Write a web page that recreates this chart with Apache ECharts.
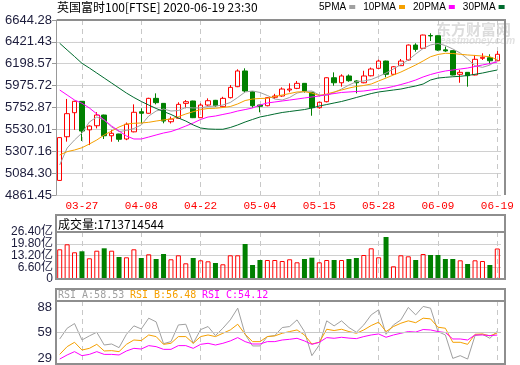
<!DOCTYPE html>
<html><head><meta charset="utf-8">
<script src="https://cdn.jsdelivr.net/npm/echarts@6/dist/echarts.min.js"></script>
<style>html,body{margin:0;padding:0;background:#fff}#c{width:520px;height:365px}</style>
</head><body><div id="c"></div>
<script>
const dates = ['03-24','03-25','03-26','03-27','03-30','03-31','04-01','04-02','04-03','04-06','04-07','04-08','04-09','04-14','04-15','04-16','04-17','04-20','04-21','04-22','04-23','04-24','04-27','04-28','04-29','04-30','05-01','05-04','05-05','05-06','05-07','05-11','05-12','05-13','05-14','05-15','05-18','05-19','05-20','05-21','05-22','05-26','05-27','05-28','05-29','06-01','06-02','06-03','06-04','06-05','06-08','06-09','06-10','06-11','06-12','06-15','06-16','06-17','06-18','06-19'];
const dateTickLabels = ['03-27','04-08','04-22','05-04','05-15','05-28','06-09','06-19'];
const openV  = [5010,5455,5700,5816,5525,5567,5676,5465,5483,5432,5505,5710,5694,5846,5795,5608,5643,5795,5819,5649,5778,5826,5761,5853,5965,6125,5914,5778,5771,5857,5870,5931,5948,5999,5908,5751,5812,6056,6005,6074,6023,6005,6076,6152,6226,6091,6179,6237,6389,6356,6486,6484,6340,6332,6091,6111,6084,6254,6260,6229];
const closeV = [5446,5690,5816,5513,5564,5676,5465,5490,5429,5582,5704,5694,5846,5802,5615,5635,5785,5812,5649,5778,5822,5771,5846,5958,6125,5921,5771,5765,5853,5870,5941,5941,5999,5921,5751,5806,6056,6005,6074,6026,6005,6074,6145,6226,6091,6168,6226,6389,6345,6491,6482,6338,6329,6084,6111,6077,6244,6264,6229,6295];
const lowV   = [5005,5405,5525,5412,5370,5540,5432,5404,5404,5420,5500,5592,5690,5785,5592,5590,5640,5745,5645,5645,5770,5760,5755,5845,5960,5900,5751,5704,5765,5840,5862,5908,5940,5905,5669,5740,5805,5975,5965,6015,5897,6000,6070,6145,6060,6085,6175,6230,6321,6350,6430,6330,6320,6080,6005,5965,6080,6237,6193,6225];
const highV  = [5450,5840,5822,5819,5570,5705,5680,5525,5485,5600,5785,5745,5852,5897,5797,5660,5806,5829,5822,5795,5846,5830,5862,5982,6142,6152,5916,5780,5860,5892,5958,5999,6023,6002,5910,5812,6060,6111,6091,6090,6030,6127,6160,6240,6230,6175,6247,6395,6407,6495,6509,6486,6374,6335,6135,6113,6288,6305,6295,6328];
const ma5  = [5167,5340,5422,5493,5605,5656,5626,5554,5508,5519,5539,5575,5666,5717,5738,5717,5722,5753,5748,5748,5763,5768,5778,5804,5855,5911,5921,5906,5875,5839,5829,5855,5900,5916,5921,5880,5875,5906,5941,5982,6016,6023,6038,6069,6104,6145,6191,6237,6298,6354,6390,6405,6384,6349,6308,6247,6178,6162,6185,6235];
const ma10 = [5269,5303,5320,5343,5381,5422,5473,5513,5554,5585,5592,5595,5602,5615,5626,5636,5659,5687,5710,5732,5743,5745,5753,5763,5789,5824,5839,5845,5847,5865,5880,5895,5911,5914,5900,5875,5890,5911,5931,5951,5967,5977,5992,6023,6053,6084,6114,6150,6186,6227,6270,6293,6305,6303,6295,6288,6283,6277,6270,6240];
const ma20 = [5931,5880,5829,5796,5748,5687,5626,5564,5513,5463,5432,5432,5452,5473,5493,5508,5534,5564,5595,5631,5656,5666,5682,5697,5717,5732,5748,5778,5799,5809,5819,5829,5839,5850,5860,5870,5885,5895,5906,5911,5916,5921,5931,5941,5951,5967,5987,6008,6033,6064,6089,6109,6125,6135,6145,6155,6171,6186,6201,6216];
const ma30 = [6407,6339,6272,6203,6155,6104,6053,6002,5951,5900,5855,5814,5778,5743,5712,5682,5646,5615,5575,5544,5534,5531,5531,5549,5575,5605,5631,5656,5671,5687,5702,5712,5722,5732,5748,5768,5783,5799,5814,5834,5855,5875,5895,5911,5921,5931,5941,5957,5972,5992,6033,6053,6060,6066,6071,6079,6091,6104,6120,6135];
const volume = [16.68,19.49,15.00,15.56,11.63,15.90,17.24,15.90,12.36,12.19,16.68,11.80,13.87,11.23,14.04,11.07,13.31,8.82,11.80,10.50,9.94,8.99,8.26,13.31,13.31,19.66,7.86,10.67,10.67,10.67,10.11,11.07,9.38,11.23,11.96,9.38,10.67,10.67,10.67,11.23,11.80,13.48,17.24,12.19,23.59,7.13,13.31,12.75,10.67,14.04,13.48,13.48,11.23,11.23,10.50,8.43,10.50,10.11,7.86,17.14];
const rsiA = [51.4,64.0,69.5,50.2,55.0,59.3,44.3,45.5,41.2,56.9,66.8,63.2,75.8,71.5,45.9,48.3,67.9,68.7,46.3,62.4,66.0,55.4,64.0,73.8,87.6,56.9,43.2,43.2,54.2,55.4,64.8,66.0,73.8,60.1,31.8,44.3,72.7,66.8,72.7,64.8,59.3,67.9,79.7,85.6,56.9,67.9,73.8,88.4,79.7,89.6,87.6,60.1,56.1,28.6,31.8,27.8,55.4,56.9,52.2,60.5];
const rsiB = [33.3,42.4,47.5,38.4,40.4,45.1,37.3,37.7,36.5,45.1,50.2,49.5,56.1,54.2,45.1,46.3,54.2,54.2,46.3,54.2,56.1,54.2,58.1,62.0,68.7,56.9,48.3,48.3,54.2,55.0,58.1,60.1,62.0,56.1,45.5,47.5,62.8,61.3,62.8,60.1,58.1,62.0,67.2,71.1,60.1,66.0,69.9,72.7,70.5,75.8,75.0,65.2,64.0,47.5,47.5,45.1,56.9,57.3,55.0,58.5];
const rsiC = [27.8,32.6,36.5,31.8,33.3,36.5,33.3,33.3,32.6,37.3,40.4,39.6,43.6,42.4,39.2,39.2,43.6,43.6,40.4,45.1,46.3,44.3,46.3,49.1,53.0,48.3,45.5,45.5,48.3,48.3,50.2,51.0,52.2,49.1,45.1,47.5,53.0,52.2,53.4,52.4,51.8,54.2,56.1,57.3,53.4,56.1,58.1,60.1,59.5,62.5,62.0,60.1,58.9,51.4,51.4,50.2,56.1,56.1,55.4,56.0];
const priceTickLabels = ['4861.45','5084.30','5307.16','5530.01','5752.87','5975.72','6198.57','6421.43','6644.28'];
const volTickValues = [0, 6.6, 13.2, 19.8, 26.4];
const volTickLabels = ['0','6.60亿','13.20亿','19.80亿','26.40亿'];
const rsiTickLabels = [29, 59, 88];
const rsiRefLine = 59;
const titleText = '英国富时100[FTSE] 2020-06-19 23:30';
const volHeader = '成交量:1713714544';
const rsiHeader = ['RSI_A:58.53', 'RSI_B:56.48', 'RSI_C:54.12'];
const maNames = ['5PMA','10PMA','20PMA','30PMA'];

const C_UP = '#ff0000', C_DN = '#008000';
const C_MA = ['#a0a0a0', '#f5a000', '#ff00ff', '#006b2e'];
const FRAME = '#8e8e8e';

const pMin = Number(priceTickLabels[0]);
const pMax = Number(priceTickLabels[priceTickLabels.length - 1]);
const pInt = (pMax - pMin) / (priceTickLabels.length - 1);
const vMax = volTickValues[volTickValues.length - 1], vInt = volTickValues[1];
const volFmt = v => volTickLabels[Math.round(v / vInt)];

const isTick = (i, v) => dateTickLabels.indexOf(v) >= 0;
const xAxisBase = (g, showLabel) => ({
  type: 'category', gridIndex: g, data: dates, boundaryGap: true,
  axisLine: {show: false}, axisTick: {show: false},
  axisLabel: {show: showLabel, interval: isTick, color: '#ff0000', fontFamily: 'Liberation Mono', fontSize: 11, margin: 6},
  splitLine: {show: true, interval: isTick, alignWithLabel: true, lineStyle: {color: '#c8c8c8', type: [5, 4], width: 1}}
});

const candleData = dates.map((d, i) => [openV[i], closeV[i], lowV[i], highV[i]]);
const volData = volume.map((v, i) => {
  const up = closeV[i] >= openV[i];
  return {value: v, itemStyle: up ? {color: 'rgba(0,0,0,0)', borderColor: C_UP, borderWidth: 1} : {color: C_DN, borderColor: C_DN, borderWidth: 0}};
});

const maLine = (name, data, color) => ({
  name, type: 'line', xAxisIndex: 0, yAxisIndex: 0, data, symbol: 'none', showSymbol: false,
  lineStyle: {color, width: 1}, itemStyle: {color}, z: 3, silent: true
});
const rsiLine = (data, color, extra) => Object.assign({
  type: 'line', xAxisIndex: 2, yAxisIndex: 2, data, symbol: 'none', showSymbol: false,
  lineStyle: {color, width: 1}, itemStyle: {color}, silent: true, z: 3
}, extra || {});

const volLabelStyle = {color: '#1c1c3c', fontFamily: 'Liberation Sans, Noto Sans CJK SC', fontSize: 12, margin: 3,
  showMinLabel: true, showMaxLabel: true, hideOverlap: false, formatter: volFmt};

const chart = echarts.init(document.getElementById('c'), null, {renderer: 'canvas', width: 520, height: 365});
const fontCJK = 'Noto Sans CJK SC';
chart.setOption({
  animation: false,
  backgroundColor: '#ffffff',
  legend: {
    data: maNames, left: 319, top: 2, width: 200, orient: 'horizontal', align: 'right', icon: 'rect',
    itemWidth: 6, itemHeight: 4, itemGap: 8, padding: 0,
    textStyle: {fontSize: 10, fontFamily: 'Liberation Sans Narrow, Liberation Sans', color: '#000', padding: [0, -2, 0, 0]},
    selectedMode: false
  },
  grid: [
    {left: 56, top: 20, width: 445, height: 175, outerBoundsMode: 'none'},
    {left: 56, top: 232, width: 445, height: 47, outerBoundsMode: 'none'},
    {left: 56, top: 301, width: 445, height: 63, outerBoundsMode: 'none'}
  ],
  xAxis: [xAxisBase(0, true), xAxisBase(1, false), xAxisBase(2, false)],
  yAxis: [
    {type: 'value', gridIndex: 0, min: pMin, max: pMax, interval: pInt,
     axisLine: {show: true, lineStyle: {color: '#999', width: 1}},
     axisTick: {show: true, length: 4, lineStyle: {color: '#999'}},
     axisLabel: {color: '#1c1c3c', fontFamily: 'Liberation Sans', fontSize: 13, margin: 4,
       showMinLabel: true, showMaxLabel: true, hideOverlap: false,
       formatter: v => priceTickLabels[Math.round((v - pMin) / pInt)]},
     splitLine: {show: true, lineStyle: {color: '#d0d0d0', width: 1}}},
    {type: 'value', gridIndex: 1, min: 0, max: vMax, interval: vInt,
     axisLine: {show: false}, axisTick: {show: false},
     axisLabel: Object.assign({customValues: volTickValues.filter((v, k) => k % 2 === 0)}, volLabelStyle),
     splitLine: {show: true, lineStyle: {color: '#d0d0d0', width: 1}}},
    {type: 'value', gridIndex: 2, min: 22, max: 96,
     axisLine: {show: false}, axisTick: {show: false},
     axisLabel: {customValues: rsiTickLabels, color: '#1c1c3c', fontFamily: 'Liberation Sans', fontSize: 13, margin: 4},
     splitLine: {show: false}},
    {type: 'value', gridIndex: 1, min: 0, max: vMax, position: 'left', offset: 0,
     axisLine: {show: false}, axisTick: {show: false},
     axisLabel: Object.assign({customValues: volTickValues.filter((v, k) => k % 2 === 1)}, volLabelStyle),
     splitLine: {show: false}}
  ],
  series: [
    {type: 'candlestick', xAxisIndex: 0, yAxisIndex: 0, data: candleData, barWidth: 5, silent: true, z: 2,
     itemStyle: {color: 'rgba(0,0,0,0)', color0: C_DN, borderColor: C_UP, borderColor0: C_DN, borderWidth: 1}},
    maLine(maNames[0], ma5, C_MA[0]),
    maLine(maNames[1], ma10, C_MA[1]),
    maLine(maNames[2], ma20, C_MA[2]),
    maLine(maNames[3], ma30, C_MA[3]),
    {type: 'bar', xAxisIndex: 1, yAxisIndex: 1, data: volData, barWidth: 5, silent: true},
    rsiLine(rsiA, C_MA[0], {markLine: {silent: true, symbol: 'none', label: {show: false},
      lineStyle: {color: '#c8c8c8', type: 'solid', width: 1}, data: [{yAxis: rsiRefLine}]}}),
    rsiLine(rsiB, C_MA[1]),
    rsiLine(rsiC, C_MA[2])
  ],
  graphic: [
    {type: 'text', x: 57, y: 7, style: {text: titleText, fontSize: 12, fontFamily: fontCJK, fill: '#000', verticalAlign: 'middle'}},
    {type: 'text', x: 436, y: 29, z: 0, style: {text: '东方财富网', fontSize: 15, fontWeight: 'bold', fontFamily: fontCJK, fill: '#dcdcdc', verticalAlign: 'middle'}},
    {type: 'text', x: 440, y: 41, z: 0, style: {text: 'eastmoney.com', fontSize: 10, fontStyle: 'italic', fontWeight: 'bold', fontFamily: 'Liberation Sans', fill: '#e2e2e2', verticalAlign: 'middle'}},
    {type: 'polyline', z: 50, shape: {points: [[57, 20], [505, 20], [505, 195]]}, style: {fill: null, stroke: FRAME, lineWidth: 2}},
    {type: 'rect', z: 50, shape: {x: 56, y: 215, width: 449, height: 64}, style: {fill: null, stroke: FRAME, lineWidth: 2}},
    {type: 'line', z: 50, shape: {x1: 56, y1: 232, x2: 505, y2: 232}, style: {stroke: FRAME, lineWidth: 2}},
    {type: 'text', x: 58, y: 224, style: {text: volHeader, fontSize: 12, fontFamily: fontCJK, fill: '#000', verticalAlign: 'middle'}},
    {type: 'rect', z: 50, shape: {x: 56, y: 289, width: 449, height: 75}, style: {fill: null, stroke: FRAME, lineWidth: 2}},
    {type: 'line', z: 50, shape: {x1: 56, y1: 301, x2: 505, y2: 301}, style: {stroke: FRAME, lineWidth: 2}},
    {type: 'text', x: 58, y: 295, style: {text: rsiHeader[0], fontSize: 10, fontFamily: 'DejaVu Sans Mono', fill: C_MA[0], verticalAlign: 'middle'}},
    {type: 'text', x: 130, y: 295, style: {text: rsiHeader[1], fontSize: 10, fontFamily: 'DejaVu Sans Mono', fill: C_MA[1], verticalAlign: 'middle'}},
    {type: 'text', x: 202, y: 295, style: {text: rsiHeader[2], fontSize: 10, fontFamily: 'DejaVu Sans Mono', fill: C_MA[2], verticalAlign: 'middle'}}
  ]
});
</script>
</body></html>
